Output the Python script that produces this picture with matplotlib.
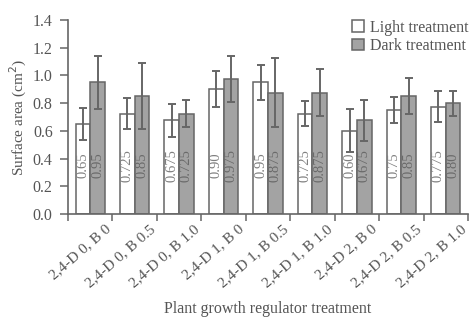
import matplotlib
matplotlib.use("Agg")
import matplotlib.pyplot as plt
import numpy as np

categories = ["2,4-D 0, B 0", "2,4-D 0, B 0.5", "2,4-D 0, B 1.0",
              "2,4-D 1, B 0", "2,4-D 1, B 0.5", "2,4-D 1, B 1.0",
              "2,4-D 2, B 0", "2,4-D 2, B 0.5", "2,4-D 2, B 1.0"]
light = [0.65, 0.725, 0.675, 0.90, 0.95, 0.725, 0.60, 0.75, 0.775]
dark = [0.95, 0.85, 0.725, 0.975, 0.875, 0.875, 0.675, 0.85, 0.80]
light_err = [0.115, 0.115, 0.12, 0.13, 0.125, 0.09, 0.155, 0.095, 0.11]
dark_err = [0.19, 0.24, 0.10, 0.165, 0.25, 0.17, 0.15, 0.13, 0.09]
light_lbl = ["0.65", "0.725", "0.675", "0.90", "0.95", "0.725", "0.60", "0.75", "0.775"]
dark_lbl = ["0.95", "0.85", "0.725", "0.975", "0.875", "0.875", "0.675", "0.85", "0.80"]

plt.rcParams['font.family'] = ['Liberation Serif', 'DejaVu Serif']
txt = '#555555'
edge = '#666666'

fig = plt.figure(figsize=(4.72, 3.18), dpi=100)
ax = fig.add_axes([68/472, 1-214/318, 400/472, 194/318])

n = len(categories)
centers = np.arange(n) + 0.5
w = 0.33
ekw = dict(ecolor='#666666', elinewidth=1.4, capsize=3.2, capthick=1.4)
ax.bar(centers - w/2, light, w, yerr=light_err, color='white', edgecolor=edge,
       linewidth=1.1, error_kw=ekw, label='Light treatment')
ax.bar(centers + w/2, dark, w, yerr=dark_err, color='#a3a3a3', edgecolor=edge,
       linewidth=1.1, error_kw=ekw, label='Dark treatment')

for i in range(n):
    ax.text(centers[i] - w/2, 0.35, light_lbl[i], rotation=90, ha='center', va='center',
            fontsize=10.5, color='#808080')
    ax.text(centers[i] + w/2, 0.35, dark_lbl[i], rotation=90, ha='center', va='center',
            fontsize=10.5, color='#6a6a6a')

ax.set_xlim(0, 8.85)
ax.set_ylim(0, 1.4)
ax.set_yticks(np.arange(0, 1.41, 0.2))
ax.set_yticklabels([f"{v:.1f}" for v in np.arange(0, 1.41, 0.2)])
ax.set_xticks(np.arange(0, n + 1))
ax.set_xticklabels([])
ax.set_xticks(centers + 0.32, minor=True)
ax.set_xticklabels(categories, minor=True, rotation=41, ha='right', rotation_mode='anchor')
ax.tick_params(axis='x', which='minor', length=0, pad=6, labelsize=11, labelcolor=txt)
ax.tick_params(axis='x', which='major', length=5, width=1.1, color=edge, direction='out')
ax.tick_params(axis='y', length=6, width=1.1, color=edge, labelsize=11.5, labelcolor=txt, pad=5)
for s in ['top', 'right']:
    ax.spines[s].set_visible(False)
for s in ['left', 'bottom']:
    ax.spines[s].set_color(edge)
    ax.spines[s].set_linewidth(1.2)

ax.set_ylabel('Surface area (cm$^2$)', fontsize=11, color=txt, labelpad=3)
ax.xaxis.set_label_coords(0.5, -95/194)
ax.set_xlabel('Plant growth regulator treatment', fontsize=11.5, color=txt, va='center')

leg = ax.legend(loc='upper right', bbox_to_anchor=(1.03, 1.06), frameon=False, fontsize=11.5,
                handlelength=0.75, handleheight=0.75, handletextpad=0.4, labelspacing=0.15,
                borderpad=0.2)
for t in leg.get_texts():
    t.set_color(txt)

fig.savefig('out.png', dpi=100, facecolor='white')
